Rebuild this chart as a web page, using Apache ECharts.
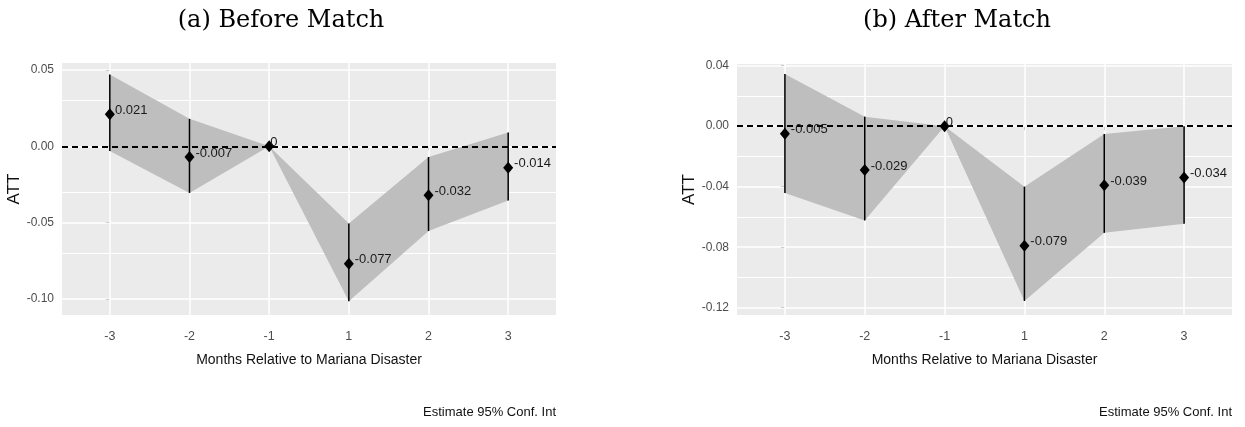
<!DOCTYPE html>
<html>
<head>
<meta charset="utf-8">
<script src="https://cdn.jsdelivr.net/npm/echarts@6/dist/echarts.min.js"></script>
<style>html,body{margin:0;padding:0;background:#fff}#c{width:1245px;height:427px}</style>
</head>
<body>
<div id="c"></div>
<script>
// ---- data ----
const xLabels = ['-3', '-2', '-1', '1', '2', '3'];
const xIdx = [0, 1, 2, 3, 4, 5];

// (a) Before Match
const estA = [0.021, -0.007, 0, -0.077, -0.032, -0.014];
const upA  = [0.047, 0.018, 0, -0.0505, -0.007, 0.009];
const loA  = [-0.003, -0.0305, 0, -0.1015, -0.0555, -0.0355];
const labA = ['0.021', '-0.007', '0', '-0.077', '-0.032', '-0.014'];
const yTicksA = [-0.10, -0.05, 0.00, 0.05];
const yMinorA = [-0.075, -0.025, 0.025];

// (b) After Match
const estB = [-0.005, -0.029, 0, -0.079, -0.039, -0.034];
const upB  = [0.0345, 0.0063, 0, -0.040, -0.0052, 0.0];
const loB  = [-0.0442, -0.0623, 0, -0.1155, -0.0705, -0.0645];
const labB = ['-0.005', '-0.029', '0', '-0.079', '-0.039', '-0.034'];
const yTicksB = [-0.12, -0.08, -0.04, 0.00, 0.04];
const yMinorB = [-0.10, -0.06, -0.02, 0.02];

const titles = ['(a) Before Match', '(b) After Match'];
const xTitle = 'Months Relative to Mariana Disaster';
const yTitle = 'ATT';
const footer = 'Estimate 95% Conf. Int';

// ---- styling ----
const SANS = "'Liberation Sans', Arial, sans-serif";
const SERIF = "'DejaVu Serif', 'Liberation Serif', serif";
const LABEL_FS = 13;

const mctx = document.createElement('canvas').getContext('2d');
function textW(t, fs) { mctx.font = fs + 'px ' + SANS; return mctx.measureText(t).width; }

const panels = [
  {est: estA, up: upA, lo: loA, lab: labA, ticks: yTicksA, minor: yMinorA, min: -0.1105, max: 0.0546,
   grid: {left: 62, top: 63, width: 494, height: 252}},
  {est: estB, up: upB, lo: loB, lab: labB, ticks: yTicksB, minor: yMinorB, min: -0.1248, max: 0.0411,
   grid: {left: 737, top: 64, width: 495, height: 251}}
];

const grids = [], xAxes = [], yAxes = [], series = [];
panels.forEach((p, k) => {
  grids.push(Object.assign({show: true, backgroundColor: '#EBEBEB', borderWidth: 0}, p.grid));
  xAxes.push({
    gridIndex: k, type: 'value', min: -0.6, max: 5.6,
    axisLine: {show: false},
    axisTick: {show: true, customValues: xIdx, length: 4, lineStyle: {color: '#333', width: 1}},
    axisLabel: {customValues: xIdx, formatter: v => xLabels[Math.round(v)], color: '#4D4D4D',
                fontFamily: SANS, fontSize: 12.5, margin: 15},
    splitLine: {show: false},
    name: xTitle, nameLocation: 'middle', nameGap: 38,
    nameTextStyle: {fontFamily: SANS, fontSize: 14, color: '#111'}
  });
  yAxes.push({
    gridIndex: k, type: 'value', min: p.min, max: p.max,
    axisLine: {show: false},
    axisTick: {show: true, customValues: p.ticks, length: 4, lineStyle: {color: '#333', width: 1}},
    axisLabel: {customValues: p.ticks, formatter: v => v.toFixed(2), color: '#4D4D4D',
                fontFamily: SANS, fontSize: 12, margin: 8},
    splitLine: {show: false},
    name: yTitle, nameLocation: 'middle', nameGap: 39,
    nameTextStyle: {fontFamily: SANS, fontSize: 17, color: '#111'}
  });
  // gridlines
  const gl = [];
  xIdx.forEach(v => gl.push({xAxis: v, lineStyle: {color: '#fff', width: 1.5, type: 'solid'}}));
  p.ticks.forEach(v => gl.push({yAxis: v, lineStyle: {color: '#fff', width: 1.5, type: 'solid'}}));
  p.minor.forEach(v => gl.push({yAxis: v, lineStyle: {color: '#fff', width: 1, type: 'solid'}}));
  series.push({
    type: 'line', xAxisIndex: k, yAxisIndex: k, z: 1, silent: true,
    data: xIdx.map((x, i) => [x, p.est[i]]), showSymbol: false, lineStyle: {opacity: 0},
    markLine: {z: 1, silent: true, symbol: 'none', label: {show: false}, animation: false, data: gl}
  });
  // ribbon
  series.push({
    type: 'custom', xAxisIndex: k, yAxisIndex: k, z: 2, silent: true,
    data: xIdx.map((x, i) => [x, p.est[i]]),
    renderItem: (params, api) => {
      if (params.dataIndex !== 0) return null;
      const pts = [];
      xIdx.forEach((x, i) => pts.push(api.coord([x, p.up[i]])));
      for (let i = xIdx.length - 1; i >= 0; i--) pts.push(api.coord([xIdx[i], p.lo[i]]));
      return {type: 'polygon', shape: {points: pts}, style: {fill: '#BEBEBE'}};
    }
  });
  // zero line
  series.push({
    type: 'line', xAxisIndex: k, yAxisIndex: k, z: 3, silent: true,
    data: [], markLine: {z: 3, silent: true, symbol: 'none', label: {show: false}, animation: false,
      data: [{yAxis: 0}], lineStyle: {color: '#000', width: 1.8, type: [6, 4]}}
  });
  // error bars
  series.push({
    type: 'custom', xAxisIndex: k, yAxisIndex: k, z: 4, silent: true,
    data: xIdx.map((x, i) => [x, p.lo[i], p.up[i]]),
    encode: {x: 0, y: [1, 2]},
    renderItem: (params, api) => {
      const a = api.coord([api.value(0), api.value(1)]);
      const b = api.coord([api.value(0), api.value(2)]);
      return {type: 'line', shape: {x1: a[0], y1: a[1], x2: b[0], y2: b[1]},
              style: {stroke: '#000', lineWidth: 1.5}};
    }
  });
  // points + labels
  series.push({
    type: 'scatter', xAxisIndex: k, yAxisIndex: k, z: 5, silent: true,
    symbol: 'diamond', symbolSize: [10, 12], itemStyle: {color: '#000', opacity: 1},
    data: xIdx.map((x, i) => ({
      value: [x, p.est[i]],
      label: {offset: [0.16 * textW(p.lab[i], LABEL_FS), -4]}
    })),
    label: {show: true, position: 'inside', align: 'left', verticalAlign: 'middle',
            formatter: prm => p.lab[prm.dataIndex], fontFamily: SANS, fontSize: LABEL_FS, color: '#1a1a1a'}
  });
});

const graphics = [
  {type: 'text', x: 281, y: 21, style: {text: titles[0], font: '24px ' + SERIF, fill: '#000', align: 'center', verticalAlign: 'middle'}},
  {type: 'text', x: 957, y: 21, style: {text: titles[1], font: '24px ' + SERIF, fill: '#000', align: 'center', verticalAlign: 'middle'}},
  {type: 'text', x: 556, y: 412, style: {text: footer, font: '13px ' + SANS, fill: '#111', align: 'right', verticalAlign: 'middle'}},
  {type: 'text', x: 1232, y: 412, style: {text: footer, font: '13px ' + SANS, fill: '#111', align: 'right', verticalAlign: 'middle'}}
];

const chart = echarts.init(document.getElementById('c'), null, {renderer: 'canvas'});
chart.setOption({
  animation: false,
  grid: grids, xAxis: xAxes, yAxis: yAxes, series: series, graphic: graphics
});
</script>
</body>
</html>
